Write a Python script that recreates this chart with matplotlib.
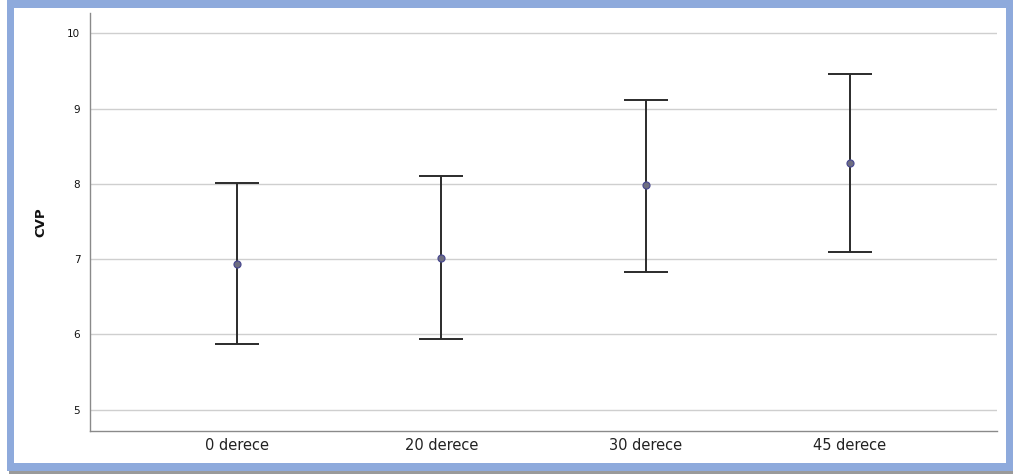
import matplotlib
matplotlib.use('Agg')
import numpy as np
import matplotlib.pyplot as plt
from matplotlib.patches import Rectangle

# values
groups = ['0 derece', '20 derece', '30 derece', '45 derece']
means = [6.93, 7.02, 7.98, 8.28]
upper = [8.01, 8.10, 9.12, 9.46]
lower = [5.87, 5.94, 6.83, 7.10]
yticks = [5, 6, 7, 8, 9, 10]

W, H = 1013, 474
fig = plt.figure(figsize=(W / 100, H / 100), dpi=100)
fig.patch.set_facecolor('white')

# frame around the chart (blue border + grey shadow)
def px_rect(x0, y0, x1, y1, color, z):
    fig.patches.append(Rectangle((x0 / W, 1 - y1 / H), (x1 - x0) / W, (y1 - y0) / H,
                                 transform=fig.transFigure, facecolor=color,
                                 edgecolor='none', zorder=z))

px_rect(9, 471, 1013, 474, '#9a9a9a', -12)
px_rect(7, 0, 1013, 471, '#8eaadc', -11)
px_rect(14, 8, 1006, 463, 'white', -10)

ax = fig.add_axes([90 / W, 43 / H, (997 - 90) / W, (461 - 43) / H])
ax.set_zorder(1)
ax.patch.set_alpha(0)

x = np.arange(len(groups))
m = np.array(means)
err = [m - np.array(lower), np.array(upper) - m]
ax.errorbar(x, m, yerr=err, fmt='none', ecolor='#2b2b2b', elinewidth=1.4,
            capsize=16, capthick=1.4, zorder=3)
ax.plot(x, m, 'o', ms=5, markerfacecolor='#6e6e80', markeredgecolor='#4a4a90',
        markeredgewidth=0.9, zorder=4)

ax.set_xlim(-0.72, 3.72)
ax.set_ylim(4.717, 10.27)
ax.set_yticks(yticks)
ax.set_yticklabels([str(v) for v in yticks])
ax.set_xticks(x)
ax.set_xticklabels(groups)
ax.tick_params(axis='y', length=0, pad=7, labelsize=7.5, labelcolor='#111111')
ax.tick_params(axis='x', length=0, pad=5, labelsize=10.5, labelcolor='#222222')

ax.grid(axis='y', color='#cfcfcf', linewidth=1.0)
ax.set_axisbelow(True)
for s in ['top', 'right']:
    ax.spines[s].set_visible(False)
for s in ['left', 'bottom']:
    ax.spines[s].set_color('#8a8a8a')
    ax.spines[s].set_linewidth(1.0)

ax.set_ylabel('CVP', fontsize=9.5, fontweight='bold', color='#111111', labelpad=14)

fig.savefig('out.png', dpi=100, facecolor=fig.get_facecolor())
